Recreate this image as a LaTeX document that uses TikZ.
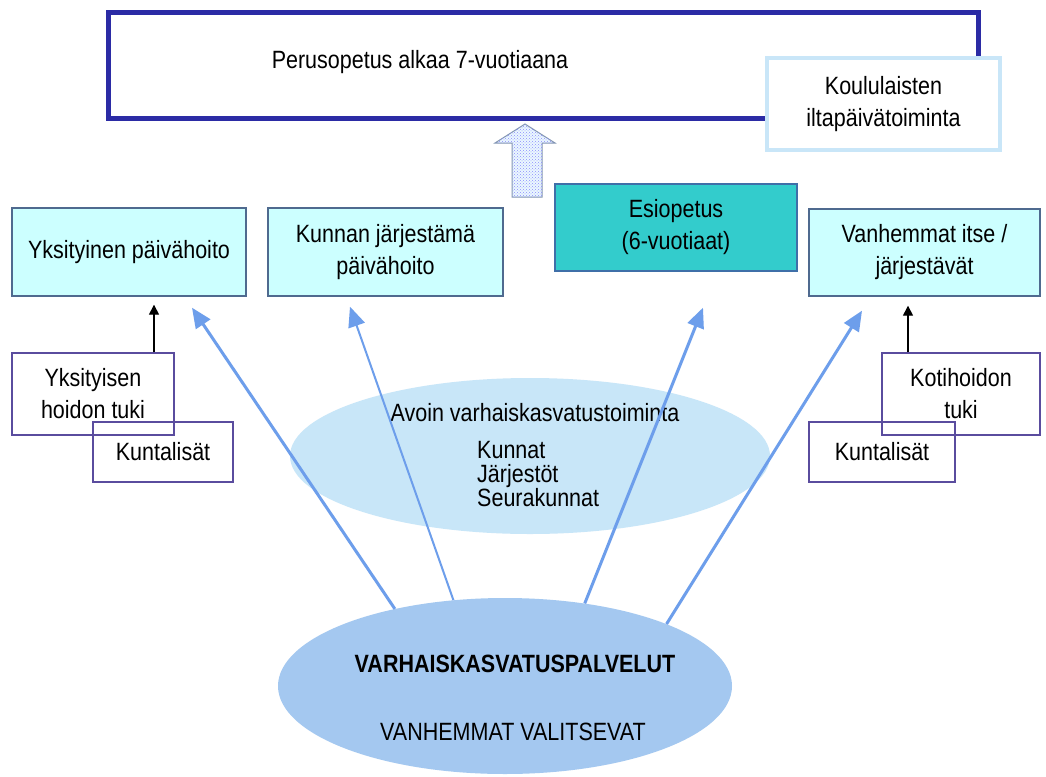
\documentclass[tikz,border=0pt]{standalone}
\usepackage{fontspec}
\setmainfont{Liberation Sans}[FakeStretch=0.86]
\usepackage{tikz}
\usetikzlibrary{arrows.meta, positioning, shapes.geometric, patterns}
\definecolor{perusBlue}{HTML}{2B2BA5}
\definecolor{iltaBlue}{HTML}{C9E6F8}
\definecolor{careCyan}{HTML}{CCFFFF}
\definecolor{boxEdge}{HTML}{4F6A8F}
\definecolor{esiTeal}{HTML}{33CCCC}
\definecolor{esiEdge}{HTML}{3F6FA8}
\definecolor{tukiEdge}{HTML}{5A4C9E}
\definecolor{choiceBlue}{HTML}{6D9EEB}
\definecolor{avoinBlue}{HTML}{C8E6F8}
\definecolor{palvBlue}{HTML}{A4C8F0}

\begin{document}
\begin{tikzpicture}[x=1pt, y=-1pt,
    txt/.style={font=\fontsize{25}{32}\selectfont, align=center, inner sep=0pt},
    care/.style={txt, draw=boxEdge, line width=1.4pt, fill=careCyan},
    tuki/.style={txt, draw=tukiEdge, line width=1.3pt},
    blk/.style={-{Triangle[length=10pt,width=10pt]}, line width=1.4pt, black},
    barr/.style={-{Triangle[length=20pt,width=17pt]}, line width=3pt, choiceBlue},
    oval/.style={ellipse, inner sep=0pt}
  ]
    \fill[white] (0,0) rectangle (1046,776);
    \useasboundingbox (0,0) rectangle (1046,776);

    % top row
    \node[draw=perusBlue, line width=5pt, minimum width=870pt, minimum height=105pt]
      (perus) at (543,65.5) {};
    \node[txt] (perustxt) at (420,62) {Perusopetus alkaa 7-vuotiaana};
    \node[txt, draw=iltaBlue, line width=4pt, fill=white,
          minimum width=233pt, minimum height=92pt] (ilta) at (883.5,104)
      {Koululaisten\\iltapäivätoiminta};
    \draw[draw=boxEdge!70, line width=1pt, fill=cyan!8,
          postaction={pattern=crosshatch dots, pattern color=blue!45}]
      (512,197) -- (512,143) -- (495,143) -- (525,124) -- (555,143)
      -- (542,143) -- (542,197) -- cycle;

    % care forms
    \node[care, minimum width=234pt, minimum height=88pt] (yks) at (129,252)
      {Yksityinen päivähoito};
    \node[care, minimum width=235pt, minimum height=88pt] (kunn) at (385.5,252)
      {Kunnan järjestämä\\päivähoito};
    \node[care, draw=esiEdge, fill=esiTeal, minimum width=242pt, minimum height=87pt]
      (esi) at (676,227.5) {Esiopetus\\(6-vuotiaat)};
    \node[care, minimum width=231pt, minimum height=87pt] (vanh) at (924.5,252.5)
      {Vanhemmat itse /\\järjestävät};

    % subsidies
    \node[tuki, minimum width=162pt, minimum height=82pt] (ytuki) at (93,394)
      {Yksityisen\\hoidon tuki};
    \node[tuki, minimum width=140pt, minimum height=60pt] (kuntl) at (163,452)
      {Kuntalisät};
    \node[tuki, minimum width=158pt, minimum height=82pt] (koti) at (961,394)
      {Kotihoidon\\tuki};
    \node[tuki, minimum width=146pt, minimum height=60pt] (kuntr) at (882,452)
      {Kuntalisät};
    \draw[blk] ([xshift=61pt]ytuki.north) -- ([xshift=61pt,yshift=-8pt]ytuki.north |- yks.south);
    \draw[blk] ([xshift=-53pt]koti.north) -- ([xshift=-53pt,yshift=-9pt]koti.north |- vanh.south);

    % open activities
    \node[oval, fill=avoinBlue, minimum width=480pt, minimum height=156pt]
      (avoin) at (530,456) {};
    \node[txt] (avointxt) at (535,413) {Avoin varhaiskasvatustoiminta};
    \node[txt, font=\fontsize{25}{24}\selectfont, align=left, anchor=north west]
      (avoinlist) at (477,441) {Kunnat\\Järjestöt\\Seurakunnat};

    % services
    \node[oval, fill=palvBlue, minimum width=454pt, minimum height=176pt]
      (varh) at (505,686) {};
    \node[txt, font=\bfseries\fontsize{25}{32}\selectfont] (varhtxt) at (515,664)
      {VARHAISKASVATUSPALVELUT};
    \node[txt] (valtxt) at (513,732) {VANHEMMAT VALITSEVAT};

    \draw[barr] (varh.145.8) -- ([xshift=63pt,yshift=-11pt]yks.south);
    \draw[barr, line width=2pt] (varh.121) -- ([xshift=-35.5pt,yshift=-10pt]kunn.south);
    \draw[barr] (varh.46.5) -- ([xshift=27pt,yshift=-36pt]esi.south);
    \draw[barr] (varh.21.5) -- ([xshift=-62.5pt,yshift=-14pt]vanh.south);
  \end{tikzpicture}
\end{document}
